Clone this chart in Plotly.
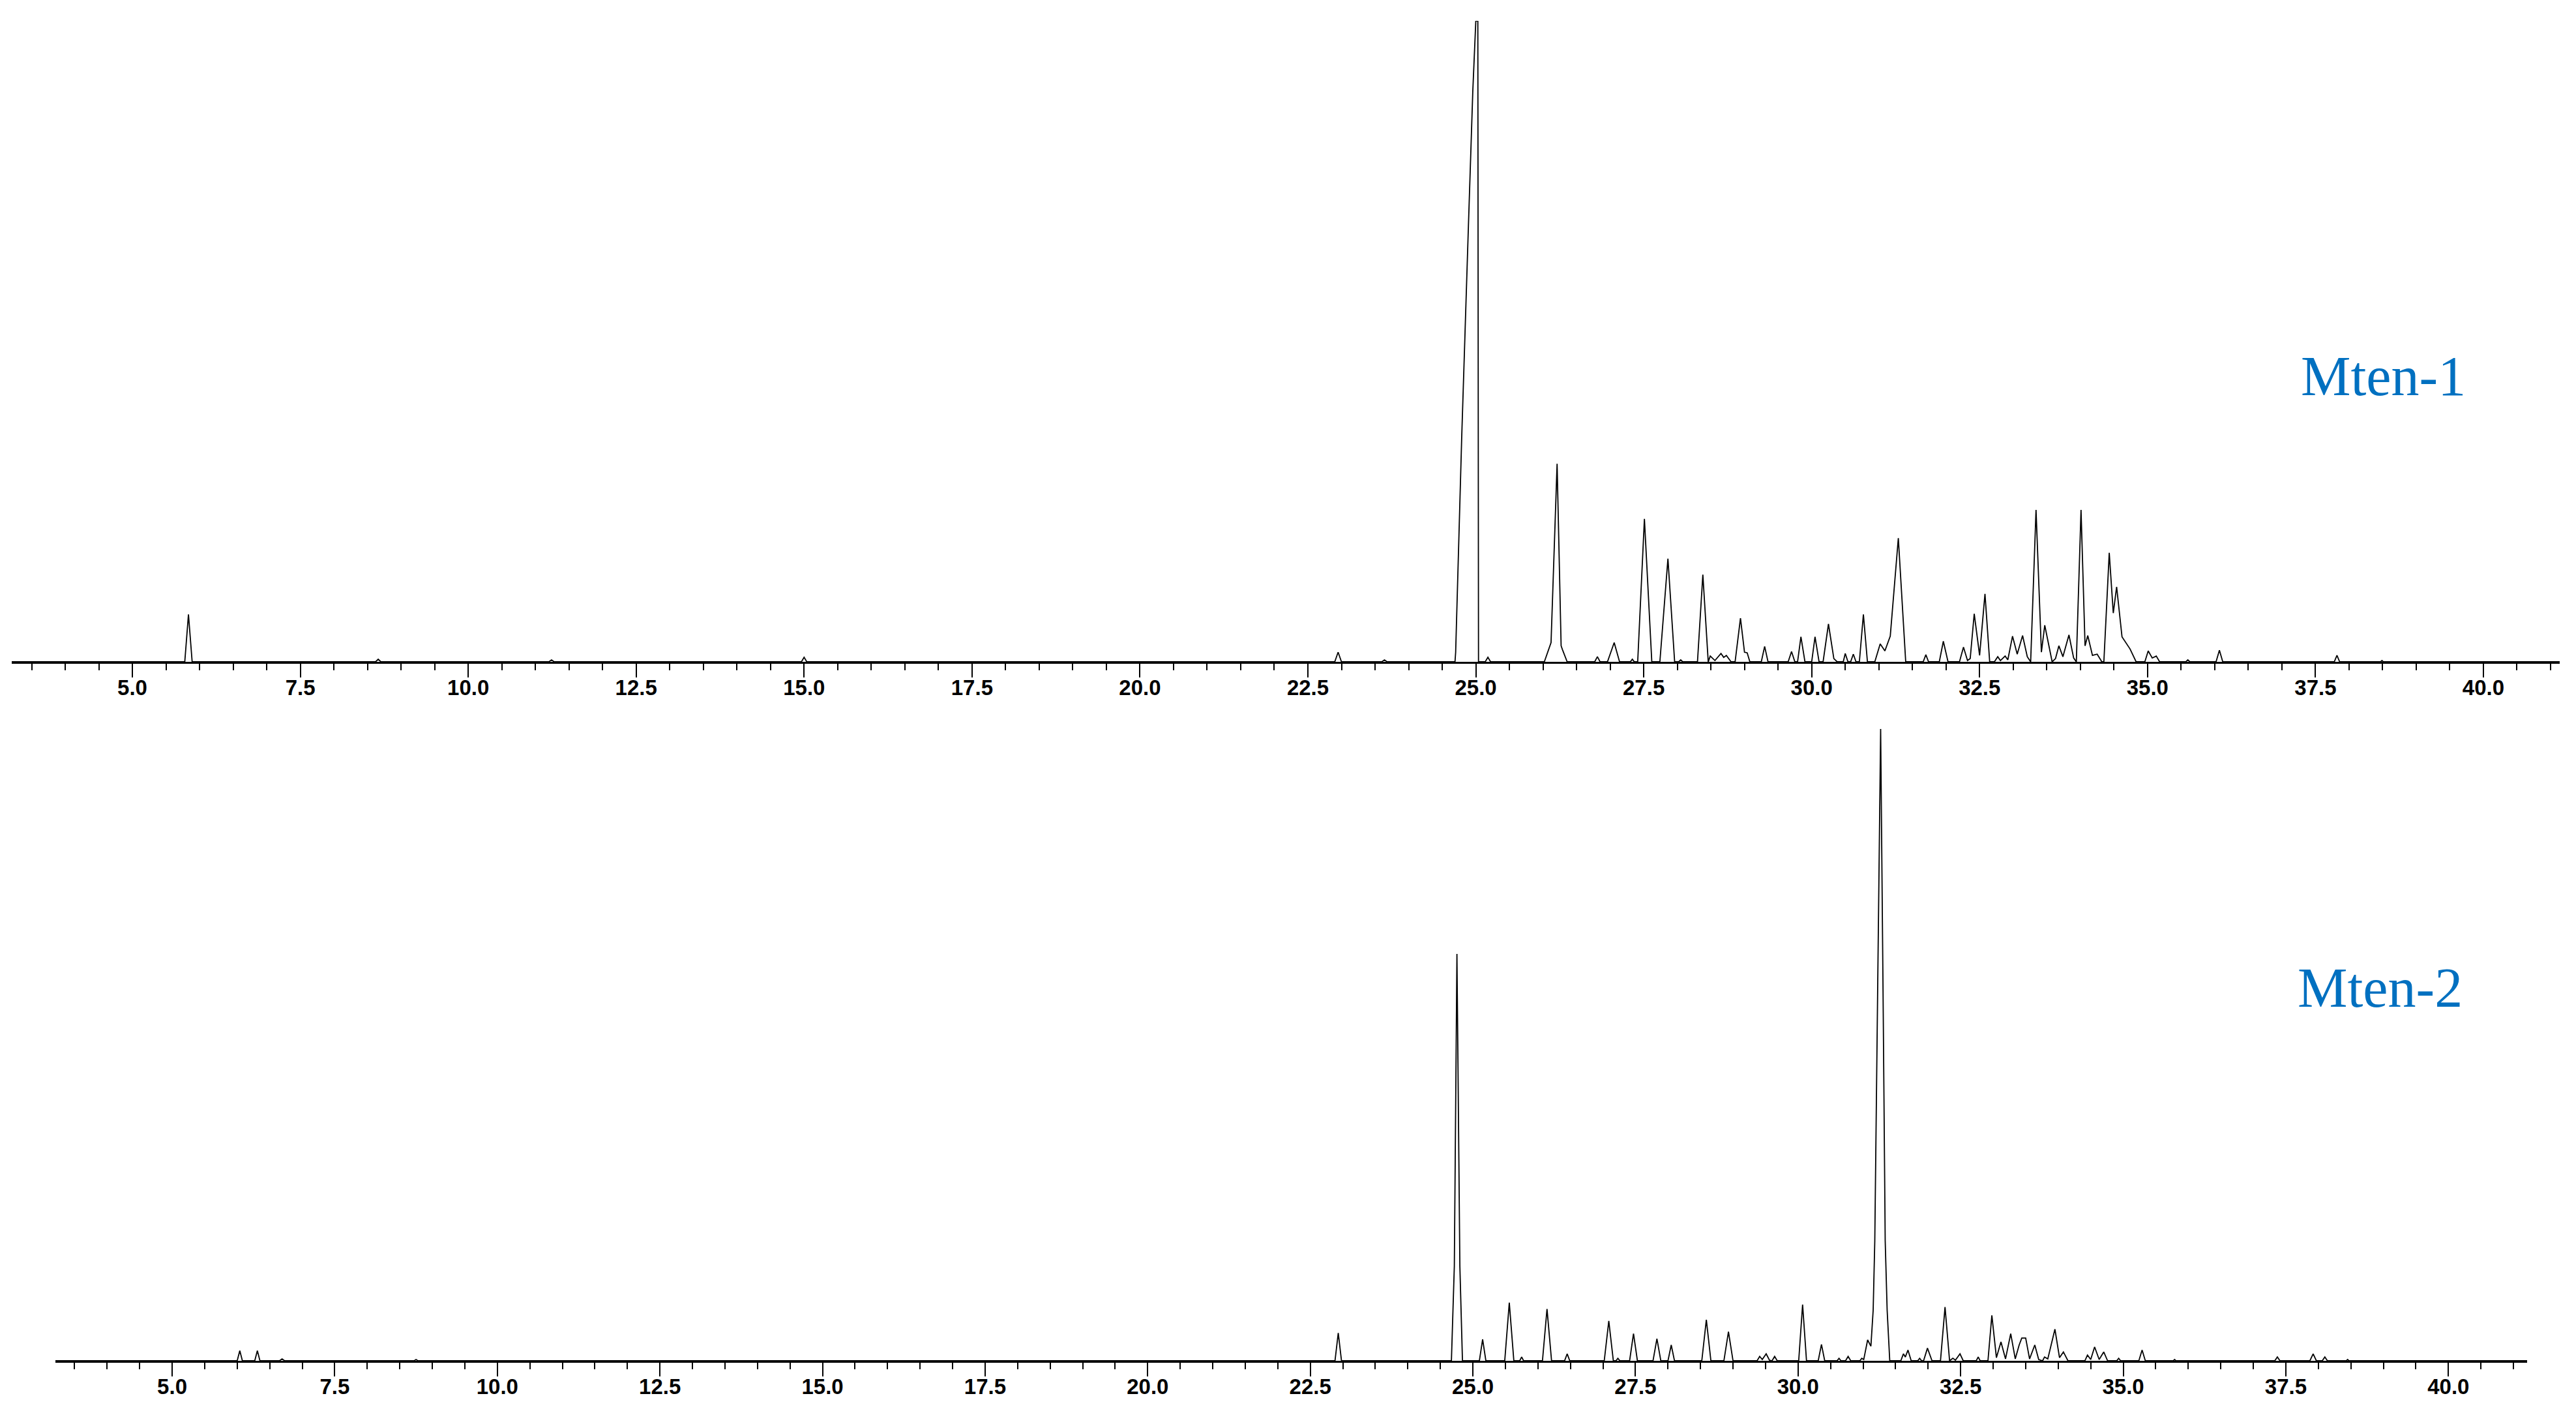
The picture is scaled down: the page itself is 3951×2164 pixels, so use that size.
"""Two stacked GC chromatograms (Mten-1 above, Mten-2 below)."""

import plotly.graph_objects as go

# ---- data: trace vertices (time in min, signal in % of panel max)
mten1_time = [
    3.20,
    5.78, 5.835, 5.89,
    8.62, 8.66, 8.70,
    11.20, 11.24, 11.28,
    14.96, 15.00, 15.04,
    22.90, 22.95, 23.00,
    23.60, 23.64, 23.68,
    24.69, 24.70, 24.79, 24.89, 24.955, 25.00, 25.03, 25.04,
    25.14, 25.18, 25.22,
    26.02, 26.12, 26.21, 26.27, 26.29, 26.36,
    26.77, 26.81, 26.85,
    26.96, 27.06, 27.14,
    27.30, 27.33, 27.36,
    27.41, 27.51, 27.62,
    27.74, 27.86, 27.96,
    28.02, 28.05, 28.08,
    28.30, 28.38, 28.46, 28.49, 28.56, 28.65, 28.69, 28.73, 28.80,
    28.86, 28.94, 29.00, 29.04, 29.08,
    29.25, 29.30, 29.35,
    29.65, 29.70, 29.75,
    29.79, 29.84, 29.90,
    30.00, 30.05, 30.11,
    30.17, 30.25, 30.33, 30.38,
    30.47, 30.50, 30.54,
    30.58, 30.62, 30.66,
    30.71, 30.77, 30.83,
    30.94, 31.02, 31.09, 31.17, 31.29, 31.40,
    31.66, 31.70, 31.74,
    31.90, 31.96, 32.03,
    32.20, 32.26, 32.32, 32.36, 32.42, 32.50, 32.58, 32.65,
    32.72, 32.77, 32.81, 32.88, 32.92, 32.99, 33.06, 33.14, 33.21,
    33.26, 33.34, 33.42, 33.47, 33.58,
    33.63, 33.68, 33.74, 33.83, 33.90,
    33.94, 34.01, 34.07, 34.11, 34.18, 34.25, 34.32,
    34.35, 34.43, 34.49, 34.54, 34.62, 34.74, 34.83,
    34.96, 35.01, 35.07, 35.13, 35.18,
    35.57, 35.60, 35.63,
    36.02, 36.07, 36.12,
    37.78, 37.82, 37.86,
    38.47, 38.49, 38.51,
    41.20,
]
mten1_signal = [
    0,
    0, 7.4, 0,
    0, 0.4, 0,
    0, 0.3, 0,
    0, 0.7, 0,
    0, 1.5, 0,
    0, 0.3, 0,
    0, 1.5, 35, 68, 89, 100, 100, 0,
    0, 0.7, 0,
    0, 3, 30.9, 2.5, 1.9, 0,
    0, 0.8, 0,
    0, 3.0, 0,
    0, 0.4, 0,
    0, 22.3, 0,
    0, 16.1, 0,
    0, 0.3, 0,
    0, 13.6, 0, 0.9, 0.2, 1.3, 0.7, 1.0, 0,
    0, 6.8, 1.5, 1.4, 0,
    0, 2.4, 0,
    0, 1.6, 0,
    0, 3.9, 0,
    0, 3.9, 0,
    0, 5.9, 0.5, 0,
    0, 1.3, 0,
    0, 1.2, 0,
    0, 7.4, 0,
    0, 2.8, 1.7, 4, 19.3, 0,
    0, 1.1, 0,
    0, 3.2, 0,
    0, 2.3, 0.2, 0.5, 7.5, 1.0, 10.6, 0,
    0, 0.8, 0.2, 0.9, 0.3, 4.0, 1.2, 4.1, 0.8,
    0, 23.7, 1.5, 5.7, 0,
    0.5, 2.5, 0.8, 4.2, 0.6,
    0, 23.7, 2.5, 4.1, 1.0, 1.2, 0,
    0, 17.0, 7.6, 11.7, 3.9, 2.0, 0,
    0, 1.7, 0.6, 0.9, 0,
    0, 0.3, 0,
    0, 1.8, 0,
    0, 1.0, 0,
    0, 0.2, 0,
    0,
]

mten2_time = [
    3.205,
    6.00, 6.04, 6.08,
    6.27, 6.31, 6.35,
    6.65, 6.69, 6.73,
    8.72, 8.75, 8.78,
    22.88, 22.93, 22.98,
    24.67, 24.715, 24.755, 24.80, 24.84,
    25.10, 25.15, 25.20,
    25.49, 25.56, 25.63,
    25.72, 25.75, 25.78,
    26.07, 26.14, 26.21,
    26.41, 26.45, 26.49,
    27.02, 27.09, 27.16,
    27.20, 27.23, 27.26,
    27.41, 27.47, 27.53,
    27.77, 27.83, 27.89,
    28.00, 28.05, 28.10,
    28.52, 28.59, 28.66,
    28.86, 28.93, 29.00,
    29.37, 29.41, 29.45, 29.51, 29.56, 29.60, 29.64, 29.68,
    30.01, 30.07, 30.13,
    30.31, 30.36, 30.41,
    30.60, 30.63, 30.66,
    30.73, 30.77, 30.81,
    30.95, 30.98, 31.01, 31.07, 31.12, 31.155, 31.18, 31.22, 31.27,
    31.31, 31.34, 31.37, 31.41,
    31.58, 31.62, 31.65, 31.69, 31.74,
    31.84, 31.87, 31.90,
    31.93, 31.99, 32.06,
    32.19, 32.26, 32.33, 32.38, 32.42, 32.49, 32.54,
    32.74, 32.77, 32.80,
    32.92, 32.98, 33.05, 33.12, 33.19, 33.27, 33.34, 33.40, 33.44, 33.50,
    33.56, 33.64, 33.70, 33.76, 33.79, 33.84, 33.95, 34.02, 34.08, 34.15,
    34.41, 34.45, 34.50, 34.56, 34.63, 34.70, 34.76,
    34.90, 34.93, 34.96,
    35.24, 35.29, 35.34,
    35.77, 35.79, 35.81,
    37.33, 37.37, 37.41,
    37.87, 37.92, 37.97,
    38.06, 38.10, 38.14,
    38.43, 38.45, 38.47,
    41.21,
]
mten2_signal = [
    0,
    0, 1.6, 0,
    0, 1.6, 0,
    0, 0.3, 0,
    0, 0.2, 0,
    0, 4.4, 0,
    0, 15, 64.4, 15, 0,
    0, 3.4, 0,
    0, 9.2, 0,
    0, 0.6, 0,
    0, 8.2, 0,
    0, 1.1, 0,
    0, 6.3, 0,
    0, 0.4, 0,
    0, 4.3, 0,
    0, 3.5, 0,
    0, 2.5, 0,
    0, 6.5, 0,
    0, 4.6, 0,
    0, 0.7, 0.2, 1.1, 0.1, 0, 0.7, 0,
    0, 8.9, 0,
    0, 2.6, 0,
    0, 0.4, 0,
    0, 0.7, 0,
    0, 0.4, 0.2, 3.3, 2.3, 8, 19, 55, 100,
    55, 19, 8, 0,
    0, 1.1, 0.6, 1.7, 0,
    0, 0.4, 0,
    0, 2.0, 0,
    0, 8.5, 0, 0.4, 0.1, 1.1, 0,
    0, 0.6, 0,
    0, 7.2, 0.5, 3.0, 0.3, 4.3, 0.3, 2.5, 3.6, 3.6,
    0.3, 2.5, 0.2, 0, 0.6, 0.3, 5.0, 0.5, 1.4, 0,
    0, 0.9, 0.2, 2.2, 0.2, 1.4, 0,
    0, 0.4, 0,
    0, 1.7, 0,
    0, 0.2, 0,
    0, 0.6, 0,
    0, 1.1, 0,
    0, 0.6, 0,
    0, 0.2, 0,
    0,
]

sample_names = ["Mten-1", "Mten-2"]

assert len(mten1_time) == len(mten1_signal)
assert len(mten2_time) == len(mten2_signal)

W, H = 3951, 2164

fig = go.Figure()
fig.add_trace(go.Scatter(x=mten1_time, y=mten1_signal, mode="lines",
                         line=dict(color="black", width=1.8),
                         xaxis="x", yaxis="y", showlegend=False))
fig.add_trace(go.Scatter(x=mten2_time, y=mten2_signal, mode="lines",
                         line=dict(color="black", width=1.8),
                         xaxis="x2", yaxis="y2", showlegend=False))

tick_font = dict(family="Liberation Sans, Arial, sans-serif", size=33,
                 color="black", weight="bold")


def time_axis(domain, rng, anchor):
    return dict(
        domain=domain, range=rng, anchor=anchor,
        showline=True, linecolor="black", linewidth=2.5,
        ticks="outside", ticklen=21, tickwidth=1.5, tickcolor="black",
        tick0=0, dtick=2.5, tickformat=".1f", tickfont=tick_font,
        ticklabelstandoff=-12,
        showgrid=False, zeroline=False,
        minor=dict(tick0=0, dtick=0.5, ticks="outside", ticklen=10,
                   tickwidth=1.5, tickcolor="black", showgrid=False),
    )


fig.update_layout(
    width=W, height=H, autosize=False,
    margin=dict(l=0, r=0, t=0, b=0),
    paper_bgcolor="white", plot_bgcolor="white",
    xaxis=time_axis([18 / W, 3926 / W], [3.204, 41.136], "y"),
    yaxis=dict(domain=[(H - 1015) / H, (H - 32) / H], range=[0, 100],
               visible=False, fixedrange=True),
    xaxis2=time_axis([85 / W, 3876 / W], [3.205, 41.21], "y2"),
    yaxis2=dict(domain=[(H - 2087) / H, (H - 1118) / H], range=[0, 100],
                visible=False, fixedrange=True),
)

label_font = dict(family="Liberation Serif, Times New Roman, serif", size=86,
                  color="#0070C0")
for name, (px, py) in zip(sample_names, [(3655, 577), (3650, 1515)]):
    fig.add_annotation(text=name, x=px / W, y=(H - py) / H, xref="paper",
                       yref="paper", xanchor="center", yanchor="middle",
                       showarrow=False, font=label_font)

# page body has a default 8px margin; drop it so the figure sits at 0,0
fig.write_html("out.html", config={"displayModeBar": False},
               post_script="document.body.style.margin='0';")
